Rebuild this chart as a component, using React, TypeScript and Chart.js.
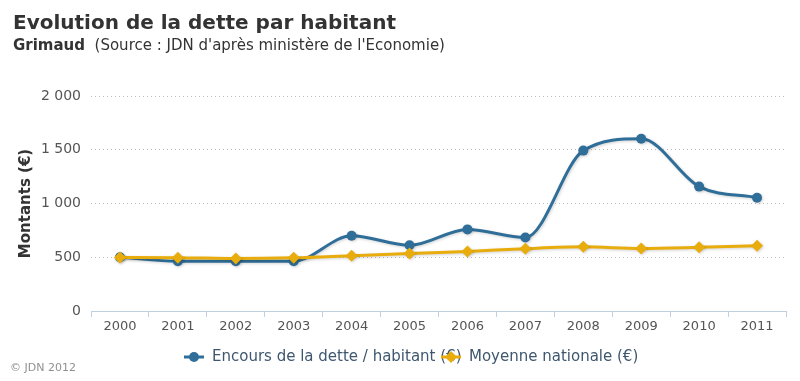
import React, { useEffect, useRef } from "react";
import { Chart, registerables } from "chart.js";

Chart.register(...registerables);

const years = ["2000", "2001", "2002", "2003", "2004", "2005", "2006", "2007", "2008", "2009", "2010", "2011"];
const detteHabitant = [500, 463, 463, 463, 700, 611, 759, 683, 1492, 1602, 1157, 1054];
const moyenneNationale = [497, 496, 488, 495, 515, 535, 553, 580, 597, 582, 592, 606];
const yTicks = [0, 500, 1000, 1500, 2000];

const FONT = "'DejaVu Sans', sans-serif";
const BLUE = "#2f6e99";
const YELLOW = "#e8ac0c";

const fmt = (v: number) => String(v).replace(/\B(?=(\d{3})+(?!\d))/g, " ");

const shadowPlugin = {
  id: "lineShadow",
  beforeDatasetDraw(chart: any) {
    const ctx = chart.ctx;
    ctx.save();
    ctx.shadowColor = "rgba(0,0,0,0.18)";
    ctx.shadowBlur = 3;
    ctx.shadowOffsetX = 1;
    ctx.shadowOffsetY = 1;
  },
  afterDatasetDraw(chart: any) {
    chart.ctx.restore();
  },
};

const legendPlugin = {
  id: "customLegend",
  afterDraw(chart: any) {
    const ctx = chart.ctx;
    const items = [
      { label: "Encours de la dette / habitant (€)", color: BLUE, shape: "circle", x: 184 },
      { label: "Moyenne nationale (€)", color: YELLOW, shape: "diamond", x: 441 },
    ];
    const y = 357;
    ctx.save();
    items.forEach((it) => {
      ctx.strokeStyle = it.color;
      ctx.lineWidth = 3;
      ctx.beginPath();
      ctx.moveTo(it.x, y);
      ctx.lineTo(it.x + 20, y);
      ctx.stroke();
      ctx.fillStyle = it.color;
      ctx.beginPath();
      const cx = it.x + 10;
      if (it.shape === "circle") {
        ctx.arc(cx, y, 5, 0, Math.PI * 2);
      } else {
        ctx.moveTo(cx, y - 6);
        ctx.lineTo(cx + 6, y);
        ctx.lineTo(cx, y + 6);
        ctx.lineTo(cx - 6, y);
        ctx.closePath();
      }
      ctx.fill();
      ctx.font = `15px ${FONT}`;
      ctx.fillStyle = "#3e576f";
      ctx.textBaseline = "middle";
      ctx.textAlign = "left";
      ctx.fillText(it.label, it.x + 28, y);
    });
    ctx.font = `11px ${FONT}`;
    ctx.fillStyle = "#909090";
    ctx.fillText("© JDN 2012", 10, 368);
    ctx.restore();
  },
};

export default function App() {
  const ref = useRef<HTMLCanvasElement>(null);
  useEffect(() => {
    if (!ref.current) return;
    const chart = new Chart(ref.current, {
      type: "line",
      data: {
        labels: years,
        datasets: [
          {
            label: "Encours de la dette / habitant (€)",
            data: detteHabitant,
            borderColor: BLUE,
            backgroundColor: BLUE,
            borderWidth: 3,
            pointRadius: 5,
            pointStyle: "circle",
            pointBorderWidth: 0,
            cubicInterpolationMode: "monotone",
            order: 2,
          },
          {
            label: "Moyenne nationale (€)",
            data: moyenneNationale,
            borderColor: YELLOW,
            backgroundColor: YELLOW,
            borderWidth: 3,
            pointRadius: 6,
            pointStyle: "rectRot",
            pointBorderWidth: 0,
            cubicInterpolationMode: "monotone",
            order: 1,
          },
        ],
      },
      options: {
        animation: false,
        responsive: false,
        maintainAspectRatio: false,
        layout: { padding: { left: 0, right: 14, top: 96, bottom: 35 } },
        plugins: {
          legend: { display: false },
          tooltip: { enabled: false },
          title: { display: false },
        },
        scales: {
          x: {
            type: "category",
            offset: true,
            grid: {
              offset: true,
              drawOnChartArea: false,
              drawTicks: true,
              tickLength: 6,
              color: "#c0d0e0",
            },
            border: { display: true, color: "#c0d0e0", width: 1 },
            ticks: { color: "#555", font: { family: FONT, size: 13 }, padding: 2 },
            afterFit(scale: any) {
              scale.height = 35;
            },
          },
          y: {
            min: 0,
            max: 2000,
            afterBuildTicks(scale: any) {
              scale.ticks = yTicks.map((v) => ({ value: v }));
            },
            grid: {
              color: "#bdbdbd",
              drawTicks: false,
              lineWidth: 1,
            },
            border: { display: false, dash: [1, 3] },
            ticks: {
              color: "#555",
              font: { family: FONT, size: 14 },
              padding: 10,
              callback: (v: any) => fmt(Number(v)),
            },
            title: {
              display: true,
              text: "Montants (€)",
              color: "#333",
              font: { family: FONT, size: 15, weight: "bold" },
              padding: { top: 17, bottom: 0 },
            },
            afterFit(scale: any) {
              scale.width = 91;
            },
          },
        },
      },
      plugins: [shadowPlugin, legendPlugin],
    } as any);
    return () => chart.destroy();
  }, []);

  return (
    <div style={{ position: "absolute", left: 0, top: 0, width: 800, height: 381, background: "#fff" }}>
      <canvas ref={ref} width={800} height={381} style={{ position: "absolute", left: 0, top: 0 }} />
      <div
        style={{
          position: "absolute",
          left: 13,
          top: 10,
          fontFamily: FONT,
          fontWeight: "bold",
          fontSize: 20,
          color: "#333",
          whiteSpace: "nowrap",
          lineHeight: "24px",
        }}
      >
        Evolution de la dette par habitant
      </div>
      <div
        style={{
          position: "absolute",
          left: 13,
          top: 36,
          fontFamily: FONT,
          fontSize: 15,
          color: "#333",
          whiteSpace: "nowrap",
          lineHeight: "18px",
        }}
      >
        <b>Grimaud</b>&nbsp; (Source : JDN d'après ministère de l'Economie)
      </div>
    </div>
  );
}
